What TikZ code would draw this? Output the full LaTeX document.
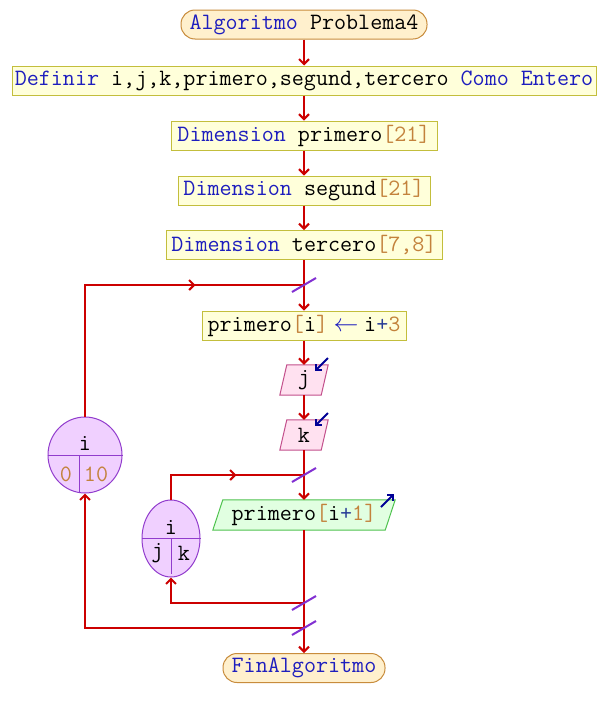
\documentclass[tikz,border=0pt]{standalone}
\usepackage{fontspec}
\usetikzlibrary{arrows.meta,shapes.geometric,decorations.markings,backgrounds,calc}
\definecolor{kwblue}{RGB}{30,30,190}
\definecolor{numbrown}{RGB}{195,130,60}
\definecolor{opblue}{RGB}{40,60,150}
\definecolor{flowred}{RGB}{204,0,0}
\definecolor{boxfill}{RGB}{255,255,218}
\definecolor{boxline}{RGB}{195,190,60}
\definecolor{termfill}{RGB}{255,240,205}
\definecolor{termline}{RGB}{200,140,60}
\definecolor{pinkfill}{RGB}{255,225,240}
\definecolor{pinkline}{RGB}{195,80,140}
\definecolor{greenfill}{RGB}{225,255,225}
\definecolor{greenline}{RGB}{80,195,80}
\definecolor{ellfill}{RGB}{240,208,255}
\definecolor{ellline}{RGB}{145,60,205}
\definecolor{slashcol}{RGB}{130,48,210}
\definecolor{iconblue}{RGB}{0,0,150}
\newcommand{\kwd}[1]{\textcolor{kwblue}{#1}}
\newcommand{\numc}[1]{\textcolor{numbrown}{#1}}
\begin{document}
\begin{tikzpicture}[x=1pt,y=-1pt,
  font=\ttfamily\fontsize{23.4}{27}\selectfont,
  flow/.style={draw=flowred,line width=2pt},
  arr/.style={flow,-{Straight Barb[length=5pt,width=10pt]}},
  procbox/.style={draw=boxline,fill=boxfill,line width=1pt,inner sep=0pt,minimum height=29pt},
  term/.style={draw=termline,fill=termfill,line width=1pt,rounded corners=14pt,inner sep=0pt,minimum height=29pt},
  iobox/.style={inner sep=0pt,minimum height=30pt},
  ellbox/.style={ellipse,draw=ellline,fill=ellfill,line width=1pt,inner sep=0pt},
  slash/.style={draw=slashcol,line width=2pt},
  icon/.style={draw=iconblue,line width=2pt,-{Straight Barb[length=4pt,width=8pt]}},
  loopmark/.style={postaction={decorate},decoration={markings,mark=at position #1 with {\arrow[flowred]{Straight Barb[length=5pt,width=10pt]}}}}
]
\useasboundingbox (0,0) rectangle (608,718);

\node[term,minimum width=246pt] (start) at (304,24.5) {\kwd{Algoritmo} Problema4};
\node[procbox,minimum width=584pt] (def) at (304,80.5) {\kwd{Definir} i,j,k,primero,segund,tercero \kwd{Como} \kwd{Entero}};
\node[procbox,minimum width=266pt] (dim1) at (304,135.5) {\kwd{Dimension} primero\numc{[21]}};
\node[procbox,minimum width=252pt] (dim2) at (304,190.5) {\kwd{Dimension} segund\numc{[21]}};
\node[procbox,minimum width=276pt] (dim3) at (304,245) {\kwd{Dimension} tercero\numc{[7,8]}};
\node[procbox,minimum width=204pt] (asg) at (304,325.5) {primero\numc{[}i\numc{]} \makebox[12pt]{\kwd{$\leftarrow$}} i\textcolor{opblue}{+}\numc{3}};
\node[iobox,minimum width=48pt] (j) at (304,380) {j};
\node[iobox,minimum width=48pt] (k) at (304,435) {k};
\node[iobox,minimum width=182pt] (out) at (304,515) {primero\numc{[}i\textcolor{opblue}{+}\numc{1]}};
\node[term,minimum width=162pt] (fin) at (304,668) {\kwd{FinAlgoritmo}};

\node[ellbox,minimum width=74pt,minimum height=76pt] (ell1) at (85,455) {};
\node[ellbox,minimum width=58pt,minimum height=77pt] (ell2) at (171,538.5) {};

\begin{scope}[on background layer]
  \fill[white] (0,0) rectangle (608,718);
  \path[draw=pinkline,fill=pinkfill,line width=1pt] (j.south west) -- ($(j.south east)+(-7,0)$) -- (j.north east) -- ($(j.north west)+(7,0)$) -- cycle;
  \path[draw=pinkline,fill=pinkfill,line width=1pt] (k.south west) -- ($(k.south east)+(-7,0)$) -- (k.north east) -- ($(k.north west)+(7,0)$) -- cycle;
  \path[draw=greenline,fill=greenfill,line width=1pt] (out.south west) -- ($(out.south east)+(-10,0)$) -- (out.north east) -- ($(out.north west)+(10,0)$) -- cycle;
\end{scope}

% ellipse contents
\draw[ellline,line width=1pt] (ell1.west) -- (ell1.east);
\draw[ellline,line width=1pt] (79,455) -- (79,492.5);
\node[inner sep=0pt] (i1) at (85,443) {i};
\node[inner sep=0pt] (lo) at (66,474) {\numc{0}};
\node[inner sep=0pt] (hi) at (96,474) {\numc{10}};

\draw[ellline,line width=1pt] (ell2.west) -- (ell2.east);
\draw[ellline,line width=1pt] (171,538.5) -- (171,574);
\node[inner sep=0pt] (i2) at (171,527) {i};
\node[inner sep=0pt] (jj) at (157.5,553) {j};
\node[inner sep=0pt] (kk) at (184,553) {k};

% junction coordinates
\coordinate (o1) at (304,285);
\coordinate (o2) at (304,475);
\coordinate (c1) at (304,603);
\coordinate (c2) at (304,628);

% main flow
\draw[arr] (start) -- (def);
\draw[arr] (def) -- (dim1);
\draw[arr] (dim1) -- (dim2);
\draw[arr] (dim2) -- (dim3);
\draw[arr] (dim3) -- (asg);
\draw[arr] (asg) -- (j);
\draw[arr] (j) -- (k);
\draw[arr] (k) -- (out);
\draw[arr] (out) -- (fin);

% loops
\draw[flow,loopmark=242pt] (ell1.north) |- (o1);
\draw[arr] (c2) -| (ell1.south);
\draw[flow,loopmark=90pt] (ell2.north) |- (o2);
\draw[arr] (c1) -| (ell2.south);

% slashes
\foreach \p in {o1,o2,c1,c2}{
  \draw[slash] ($(\p)+(-12,7)$) -- ($(\p)+(12,-7)$);
}

% io icons
\draw[icon] ($(j)+(24,-22)$) -- ($(j)+(11,-9)$);
\draw[icon] ($(k)+(24,-22)$) -- ($(k)+(11,-9)$);
\draw[icon] ($(out)+(77,-8)$) -- ($(out)+(90,-21)$);
\end{tikzpicture}
\end{document}
